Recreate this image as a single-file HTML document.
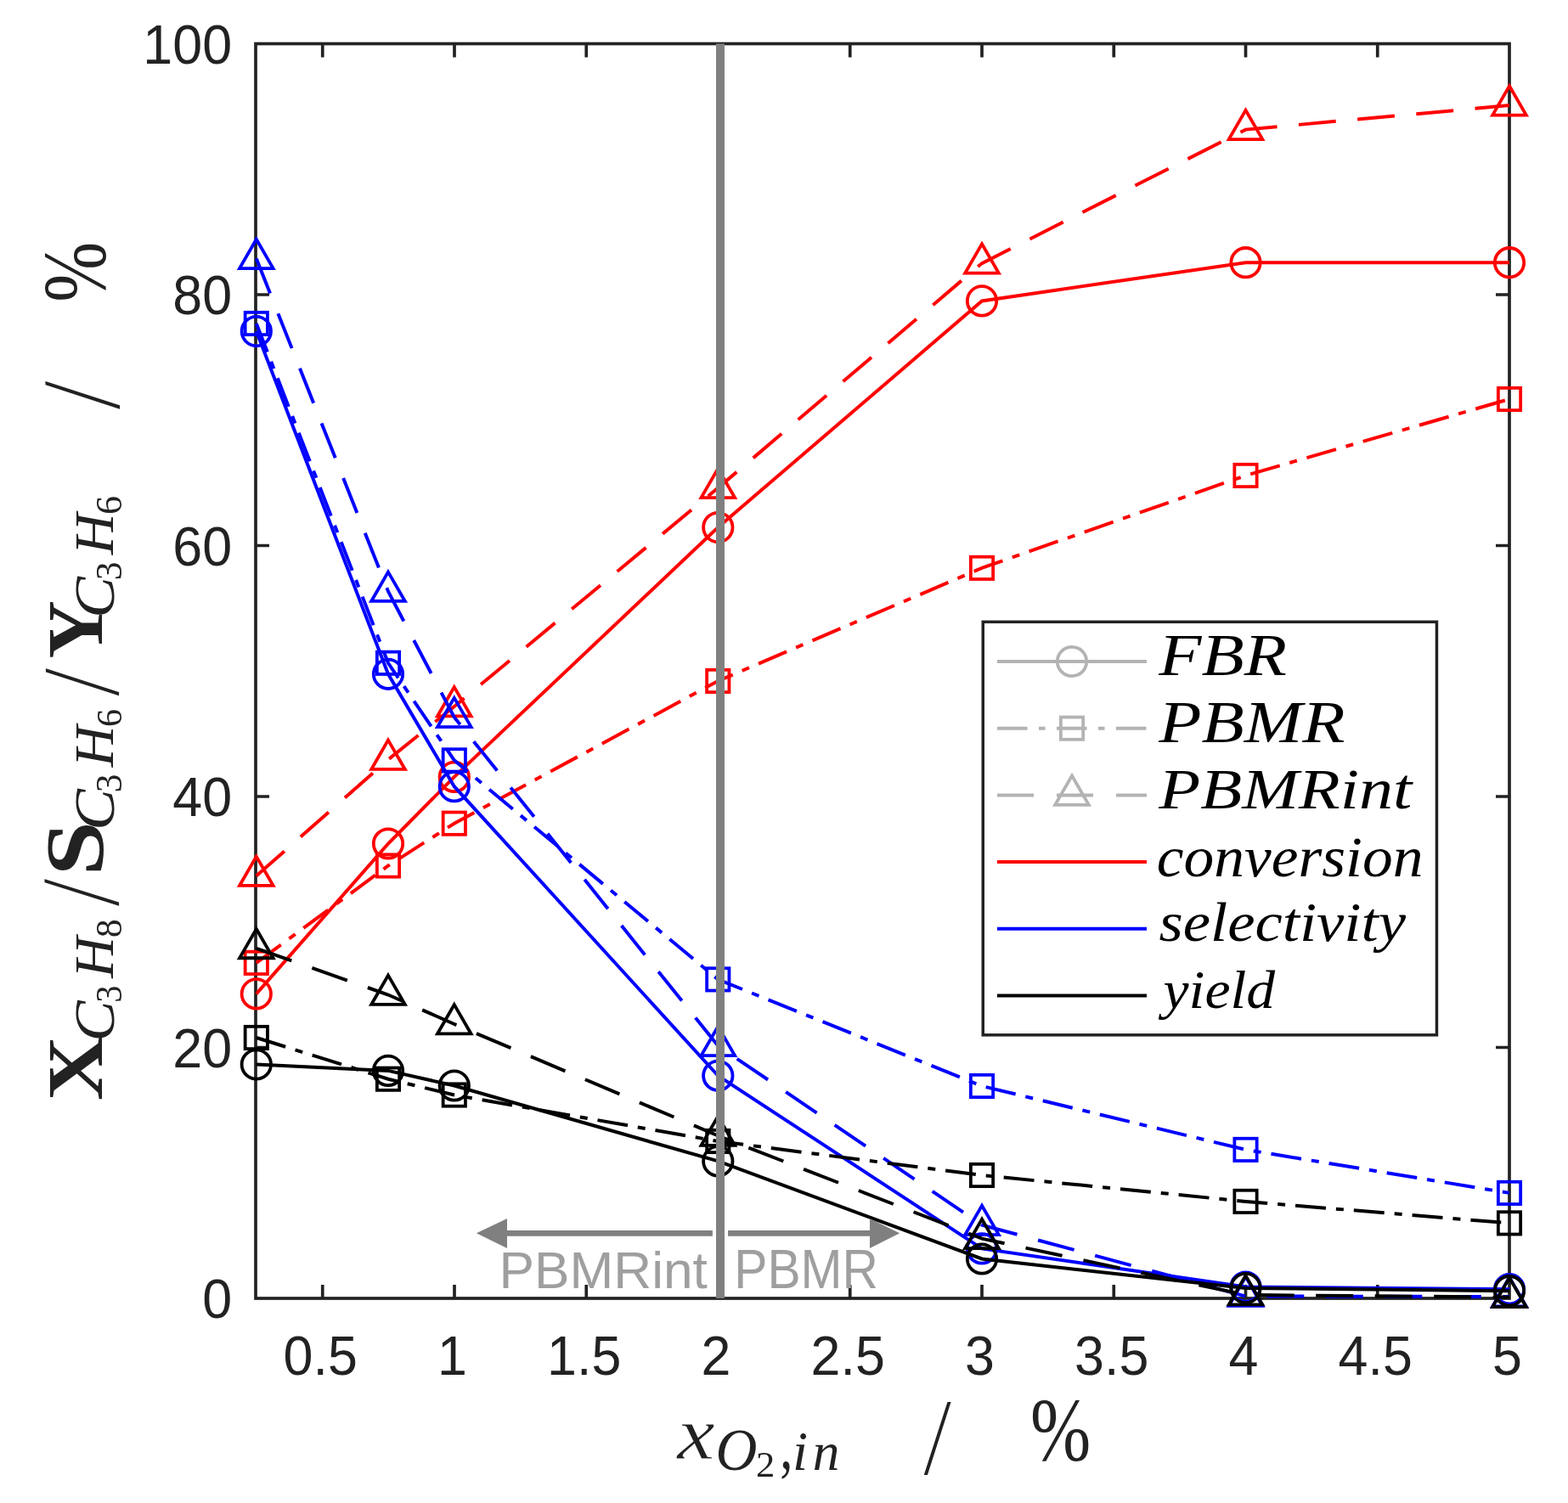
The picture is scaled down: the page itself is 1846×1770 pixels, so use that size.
<!DOCTYPE html>
<html><head><meta charset="utf-8"><title>Propane conversion, selectivity and yield</title>
<style>html,body{margin:0;padding:0;background:#fff;overflow:hidden}svg{display:block}text{font-kerning:none;white-space:pre}</style>
</head><body>
<svg width="1846" height="1770" viewBox="0 0 1846 1770">
<rect width="1846" height="1770" fill="#ffffff"/>
<g stroke="#222222" stroke-width="3.7" fill="none">
<rect x="301" y="51.5" width="1476" height="1477.5"/>
<path d="M379.75 1529V1513M379.75 51.5V67.5M535 1529V1513M535 51.5V67.5M690.25 1529V1513M690.25 51.5V67.5M845.5 1529V1513M845.5 51.5V67.5M1000.75 1529V1513M1000.75 51.5V67.5M1156 1529V1513M1156 51.5V67.5M1311.25 1529V1513M1311.25 51.5V67.5M1466.5 1529V1513M1466.5 51.5V67.5M1621.75 1529V1513M1621.75 51.5V67.5M301 1233.5H317M1777 1233.5H1761M301 938H317M1777 938H1761M301 642.5H317M1777 642.5H1761M301 347H317M1777 347H1761"/>
</g>
<g font-family="'Liberation Sans', Arial, sans-serif" font-size="64.6" fill="#222222">
<text transform="translate(377.25 1619.3) scale(0.972 1)" text-anchor="middle">0.5</text>
<text transform="translate(532.5 1619.3) scale(0.972 1)" text-anchor="middle">1</text>
<text transform="translate(687.75 1619.3) scale(0.972 1)" text-anchor="middle">1.5</text>
<text transform="translate(843 1619.3) scale(0.972 1)" text-anchor="middle">2</text>
<text transform="translate(998.25 1619.3) scale(0.972 1)" text-anchor="middle">2.5</text>
<text transform="translate(1153.5 1619.3) scale(0.972 1)" text-anchor="middle">3</text>
<text transform="translate(1308.75 1619.3) scale(0.972 1)" text-anchor="middle">3.5</text>
<text transform="translate(1464 1619.3) scale(0.972 1)" text-anchor="middle">4</text>
<text transform="translate(1619.25 1619.3) scale(0.972 1)" text-anchor="middle">4.5</text>
<text transform="translate(1774.5 1619.3) scale(0.972 1)" text-anchor="middle">5</text>
<text transform="translate(273.1 1552.3) scale(0.972 1)" text-anchor="end">0</text>
<text transform="translate(273.1 1256.8) scale(0.972 1)" text-anchor="end">20</text>
<text transform="translate(273.1 961.3) scale(0.972 1)" text-anchor="end">40</text>
<text transform="translate(273.1 665.8) scale(0.972 1)" text-anchor="end">60</text>
<text transform="translate(273.1 370.3) scale(0.972 1)" text-anchor="end">80</text>
<text transform="translate(273.1 74.8) scale(0.972 1)" text-anchor="end">100</text>
</g>
<polyline points="301.8,1170.4 457,993.5 534.8,914.9 845.3,621.1 1156,354.4 1466.5,309.2 1777,309.2" fill="none" stroke="#ff0000" stroke-width="4.0" stroke-linejoin="miter" stroke-linecap="butt"/>
<circle cx="301.8" cy="1170.4" r="17.2" fill="none" stroke="#ff0000" stroke-width="3.8"/>
<circle cx="457" cy="993.5" r="17.2" fill="none" stroke="#ff0000" stroke-width="3.8"/>
<circle cx="534.8" cy="914.9" r="17.2" fill="none" stroke="#ff0000" stroke-width="3.8"/>
<circle cx="845.3" cy="621.1" r="17.2" fill="none" stroke="#ff0000" stroke-width="3.8"/>
<circle cx="1156" cy="354.4" r="17.2" fill="none" stroke="#ff0000" stroke-width="3.8"/>
<circle cx="1466.5" cy="309.2" r="17.2" fill="none" stroke="#ff0000" stroke-width="3.8"/>
<circle cx="1777" cy="309.2" r="17.2" fill="none" stroke="#ff0000" stroke-width="3.8"/>
<polyline points="301.8,1133.9 457,1019.5 534.8,969.7 845.3,802 1156,668.9 1466.5,560 1777,470" fill="none" stroke="#ff0000" stroke-width="4.0" stroke-linejoin="miter" stroke-linecap="butt" stroke-dasharray="36 12 9 12"/>
<rect x="288.65" y="1120.75" width="26.3" height="26.3" fill="none" stroke="#ff0000" stroke-width="3.8"/>
<rect x="443.85" y="1006.35" width="26.3" height="26.3" fill="none" stroke="#ff0000" stroke-width="3.8"/>
<rect x="521.65" y="956.55" width="26.3" height="26.3" fill="none" stroke="#ff0000" stroke-width="3.8"/>
<rect x="832.15" y="788.85" width="26.3" height="26.3" fill="none" stroke="#ff0000" stroke-width="3.8"/>
<rect x="1142.85" y="655.75" width="26.3" height="26.3" fill="none" stroke="#ff0000" stroke-width="3.8"/>
<rect x="1453.35" y="546.85" width="26.3" height="26.3" fill="none" stroke="#ff0000" stroke-width="3.8"/>
<rect x="1763.85" y="456.85" width="26.3" height="26.3" fill="none" stroke="#ff0000" stroke-width="3.8"/>
<polyline points="301.8,1031.5 457,894.5 534.8,832 845.3,574.6 1156,310.1 1466.5,152.6 1777,124.1" fill="none" stroke="#ff0000" stroke-width="4.0" stroke-linejoin="miter" stroke-linecap="butt" stroke-dasharray="44 25.5"/>
<path d="M301.8 1008.64L321.6 1042.93L282 1042.93Z" fill="none" stroke="#ff0000" stroke-width="3.8" stroke-miterlimit="10"/>
<path d="M457 871.64L476.8 905.93L437.2 905.93Z" fill="none" stroke="#ff0000" stroke-width="3.8" stroke-miterlimit="10"/>
<path d="M534.8 809.14L554.6 843.43L515 843.43Z" fill="none" stroke="#ff0000" stroke-width="3.8" stroke-miterlimit="10"/>
<path d="M845.3 551.74L865.1 586.03L825.5 586.03Z" fill="none" stroke="#ff0000" stroke-width="3.8" stroke-miterlimit="10"/>
<path d="M1156 287.24L1175.8 321.53L1136.2 321.53Z" fill="none" stroke="#ff0000" stroke-width="3.8" stroke-miterlimit="10"/>
<path d="M1466.5 129.74L1486.3 164.03L1446.7 164.03Z" fill="none" stroke="#ff0000" stroke-width="3.8" stroke-miterlimit="10"/>
<path d="M1777 101.24L1796.8 135.53L1757.2 135.53Z" fill="none" stroke="#ff0000" stroke-width="3.8" stroke-miterlimit="10"/>
<polyline points="301.8,390.1 457,793.8 534.8,926.2 845.3,1266.8 1156,1470.4 1466.5,1515.5 1777,1518.2" fill="none" stroke="#0000ff" stroke-width="4.0" stroke-linejoin="miter" stroke-linecap="butt"/>
<circle cx="301.8" cy="390.1" r="17.2" fill="none" stroke="#0000ff" stroke-width="3.8"/>
<circle cx="457" cy="793.8" r="17.2" fill="none" stroke="#0000ff" stroke-width="3.8"/>
<circle cx="534.8" cy="926.2" r="17.2" fill="none" stroke="#0000ff" stroke-width="3.8"/>
<circle cx="845.3" cy="1266.8" r="17.2" fill="none" stroke="#0000ff" stroke-width="3.8"/>
<circle cx="1156" cy="1470.4" r="17.2" fill="none" stroke="#0000ff" stroke-width="3.8"/>
<circle cx="1466.5" cy="1515.5" r="17.2" fill="none" stroke="#0000ff" stroke-width="3.8"/>
<circle cx="1777" cy="1518.2" r="17.2" fill="none" stroke="#0000ff" stroke-width="3.8"/>
<polyline points="301.8,381 457,780.8 534.8,895.4 845.3,1153.4 1156,1279 1466.5,1353.9 1777,1404.9" fill="none" stroke="#0000ff" stroke-width="4.0" stroke-linejoin="miter" stroke-linecap="butt" stroke-dasharray="36 12 9 12"/>
<rect x="288.65" y="367.85" width="26.3" height="26.3" fill="none" stroke="#0000ff" stroke-width="3.8"/>
<rect x="443.85" y="767.65" width="26.3" height="26.3" fill="none" stroke="#0000ff" stroke-width="3.8"/>
<rect x="521.65" y="882.25" width="26.3" height="26.3" fill="none" stroke="#0000ff" stroke-width="3.8"/>
<rect x="832.15" y="1140.25" width="26.3" height="26.3" fill="none" stroke="#0000ff" stroke-width="3.8"/>
<rect x="1142.85" y="1265.85" width="26.3" height="26.3" fill="none" stroke="#0000ff" stroke-width="3.8"/>
<rect x="1453.35" y="1340.75" width="26.3" height="26.3" fill="none" stroke="#0000ff" stroke-width="3.8"/>
<rect x="1763.85" y="1391.75" width="26.3" height="26.3" fill="none" stroke="#0000ff" stroke-width="3.8"/>
<polyline points="301.8,304.6 457,696.5 534.8,844.7 845.3,1231.6 1156,1442.6 1466.5,1526.5 1777,1527" fill="none" stroke="#0000ff" stroke-width="4.0" stroke-linejoin="miter" stroke-linecap="butt" stroke-dasharray="44 25.5"/>
<path d="M301.8 281.74L321.6 316.03L282 316.03Z" fill="none" stroke="#0000ff" stroke-width="3.8" stroke-miterlimit="10"/>
<path d="M457 673.64L476.8 707.93L437.2 707.93Z" fill="none" stroke="#0000ff" stroke-width="3.8" stroke-miterlimit="10"/>
<path d="M534.8 821.84L554.6 856.13L515 856.13Z" fill="none" stroke="#0000ff" stroke-width="3.8" stroke-miterlimit="10"/>
<path d="M845.3 1208.74L865.1 1243.03L825.5 1243.03Z" fill="none" stroke="#0000ff" stroke-width="3.8" stroke-miterlimit="10"/>
<path d="M1156 1419.74L1175.8 1454.03L1136.2 1454.03Z" fill="none" stroke="#0000ff" stroke-width="3.8" stroke-miterlimit="10"/>
<path d="M1466.5 1503.64L1486.3 1537.93L1446.7 1537.93Z" fill="none" stroke="#0000ff" stroke-width="3.8" stroke-miterlimit="10"/>
<path d="M1777 1504.14L1796.8 1538.43L1757.2 1538.43Z" fill="none" stroke="#0000ff" stroke-width="3.8" stroke-miterlimit="10"/>
<polyline points="301.8,1253.5 457,1260.9 534.8,1278.5 845.3,1367.4 1156,1482.5 1466.5,1517 1777,1520.2" fill="none" stroke="#000000" stroke-width="4.0" stroke-linejoin="miter" stroke-linecap="butt"/>
<circle cx="301.8" cy="1253.5" r="17.2" fill="none" stroke="#000000" stroke-width="3.8"/>
<circle cx="457" cy="1260.9" r="17.2" fill="none" stroke="#000000" stroke-width="3.8"/>
<circle cx="534.8" cy="1278.5" r="17.2" fill="none" stroke="#000000" stroke-width="3.8"/>
<circle cx="845.3" cy="1367.4" r="17.2" fill="none" stroke="#000000" stroke-width="3.8"/>
<circle cx="1156" cy="1482.5" r="17.2" fill="none" stroke="#000000" stroke-width="3.8"/>
<circle cx="1466.5" cy="1517" r="17.2" fill="none" stroke="#000000" stroke-width="3.8"/>
<circle cx="1777" cy="1520.2" r="17.2" fill="none" stroke="#000000" stroke-width="3.8"/>
<polyline points="301.8,1222 457,1270.7 534.8,1289.5 845.3,1344 1156,1384 1466.5,1414.9 1777,1440.4" fill="none" stroke="#000000" stroke-width="4.0" stroke-linejoin="miter" stroke-linecap="butt" stroke-dasharray="36 12 9 12"/>
<rect x="288.65" y="1208.85" width="26.3" height="26.3" fill="none" stroke="#000000" stroke-width="3.8"/>
<rect x="443.85" y="1257.55" width="26.3" height="26.3" fill="none" stroke="#000000" stroke-width="3.8"/>
<rect x="521.65" y="1276.35" width="26.3" height="26.3" fill="none" stroke="#000000" stroke-width="3.8"/>
<rect x="832.15" y="1330.85" width="26.3" height="26.3" fill="none" stroke="#000000" stroke-width="3.8"/>
<rect x="1142.85" y="1370.85" width="26.3" height="26.3" fill="none" stroke="#000000" stroke-width="3.8"/>
<rect x="1453.35" y="1401.75" width="26.3" height="26.3" fill="none" stroke="#000000" stroke-width="3.8"/>
<rect x="1763.85" y="1427.25" width="26.3" height="26.3" fill="none" stroke="#000000" stroke-width="3.8"/>
<polyline points="301.8,1116.8 457,1171.5 534.8,1206 845.3,1337.5 1156,1458.6 1466.5,1525 1777,1527.6" fill="none" stroke="#000000" stroke-width="4.0" stroke-linejoin="miter" stroke-linecap="butt" stroke-dasharray="44 25.5"/>
<path d="M301.8 1093.94L321.6 1128.23L282 1128.23Z" fill="none" stroke="#000000" stroke-width="3.8" stroke-miterlimit="10"/>
<path d="M457 1148.64L476.8 1182.93L437.2 1182.93Z" fill="none" stroke="#000000" stroke-width="3.8" stroke-miterlimit="10"/>
<path d="M534.8 1183.14L554.6 1217.43L515 1217.43Z" fill="none" stroke="#000000" stroke-width="3.8" stroke-miterlimit="10"/>
<path d="M845.3 1314.64L865.1 1348.93L825.5 1348.93Z" fill="none" stroke="#000000" stroke-width="3.8" stroke-miterlimit="10"/>
<path d="M1156 1435.74L1175.8 1470.03L1136.2 1470.03Z" fill="none" stroke="#000000" stroke-width="3.8" stroke-miterlimit="10"/>
<path d="M1466.5 1502.14L1486.3 1536.43L1446.7 1536.43Z" fill="none" stroke="#000000" stroke-width="3.8" stroke-miterlimit="10"/>
<path d="M1777 1504.74L1796.8 1539.03L1757.2 1539.03Z" fill="none" stroke="#000000" stroke-width="3.8" stroke-miterlimit="10"/>
<line x1="848" y1="51.5" x2="848" y2="1529" stroke="#808080" stroke-width="10"/>
<path d="M597 1448.9H838.9V1455.7H597Z M560.9 1452.3L597 1434.9V1470Z" fill="#808080"/>
<path d="M857 1448.9H1024V1455.7H857Z M1059.2 1452.3L1024 1434.9V1470Z" fill="#808080"/>
<text transform="translate(587.39 1516.53) scale(1.0337 1)" font-family="'Liberation Sans', Arial, sans-serif" font-size="60.21" fill="#9f9f9f">PBMRint</text>
<text transform="translate(864.17 1517) scale(0.9177 1)" font-family="'Liberation Sans', Arial, sans-serif" font-size="64.10" fill="#9f9f9f">PBMR</text>
<rect x="1157.25" y="732.35" width="534.2" height="486.5" fill="#ffffff" stroke="#222222" stroke-width="3.5"/>
<line x1="1174" y1="779" x2="1350" y2="779" stroke="#b3b3b3" stroke-width="4.0"/>
<circle cx="1262" cy="779" r="17.2" fill="none" stroke="#b3b3b3" stroke-width="3.8"/>
<line x1="1174" y1="857.7" x2="1350" y2="857.7" stroke="#b3b3b3" stroke-width="4.0" stroke-dasharray="35.5 13.5 7.5 13.5"/>
<rect x="1248.85" y="844.55" width="26.3" height="26.3" fill="none" stroke="#b3b3b3" stroke-width="3.8"/>
<line x1="1174" y1="936.4" x2="1350" y2="936.4" stroke="#b3b3b3" stroke-width="4.0" stroke-dasharray="43 27"/>
<path d="M1262 913.54L1281.8 947.83L1242.2 947.83Z" fill="none" stroke="#b3b3b3" stroke-width="3.8" stroke-miterlimit="10"/>
<line x1="1174" y1="1015.1" x2="1350" y2="1015.1" stroke="#ff0000" stroke-width="4.0"/>
<line x1="1174" y1="1093.8" x2="1350" y2="1093.8" stroke="#0000ff" stroke-width="4.0"/>
<line x1="1174" y1="1172.5" x2="1350" y2="1172.5" stroke="#000000" stroke-width="4.0"/>
<text transform="translate(1364.34 795.49) scale(1.1651 1)" font-family="'Liberation Serif', 'Times New Roman', serif" font-size="70.55" font-style="italic" fill="#000000">FBR</text>
<text transform="translate(1364.34 874.19) scale(1.1658 1)" font-family="'Liberation Serif', 'Times New Roman', serif" font-size="70.55" font-style="italic" fill="#000000">PBMR</text>
<text transform="translate(1364.33 951.54) scale(1.1854 1)" font-family="'Liberation Serif', 'Times New Roman', serif" font-size="67.57" font-style="italic" fill="#000000">PBMRint</text>
<text transform="translate(1361.7 1031.95) scale(1.0728 1)" font-family="'Liberation Serif', 'Times New Roman', serif" font-size="66.68" font-style="italic" fill="#000000">conversion</text>
<text transform="translate(1364.51 1108.17) scale(1.1260 1)" font-family="'Liberation Serif', 'Times New Roman', serif" font-size="64.53" font-style="italic" fill="#000000">selectivity</text>
<text transform="translate(1369.55 1186.9) scale(1.0511 1)" font-family="'Liberation Serif', 'Times New Roman', serif" font-size="64.42" font-style="italic" fill="#000000">yield</text>
<text transform="translate(797.32 1718.1) scale(1.1124 1)" font-family="'Liberation Serif', 'Times New Roman', serif" font-size="89.55" font-style="italic" fill="#222222" stroke="#ffffff" stroke-width="0.80">x</text>
<text transform="translate(842.4 1730.52) scale(0.9782 1)" font-family="'Liberation Serif', 'Times New Roman', serif" font-size="69.21" font-style="italic" fill="#222222">O</text>
<text transform="translate(890.04 1738.9) scale(1.0337 1)" font-family="'Liberation Serif', 'Times New Roman', serif" font-size="43.20" fill="#222222">2</text>
<text transform="translate(918.3 1729.38) scale(0.7426 1)" font-family="'Liberation Serif', 'Times New Roman', serif" font-size="81.37" fill="#222222">,</text>
<text transform="translate(932.88 1730.6)" font-family="'Liberation Serif', 'Times New Roman', serif" font-size="64.79" font-style="italic" fill="#222222">i</text>
<text transform="translate(956.87 1730.6)" font-family="'Liberation Serif', 'Times New Roman', serif" font-size="63.24" font-style="italic" fill="#222222">n</text>
<text transform="translate(1086.5 1736.61) scale(0.9363 1)" font-family="'Liberation Serif', 'Times New Roman', serif" font-size="131.85" fill="#222222" stroke="#ffffff" stroke-width="1.80">/</text>
<text transform="translate(1213.08 1720.1) scale(0.8079 1)" font-family="'Liberation Serif', 'Times New Roman', serif" font-size="105.86" fill="#222222">%</text>
<g transform="rotate(-90)">
<text transform="translate(-1296.27 119.7) scale(1.1409 1)" font-family="'Liberation Serif', 'Times New Roman', serif" font-size="92.85" font-weight="bold" fill="#222222">X</text>
<text transform="translate(-1226.51 133.67) scale(1.0535 1)" font-family="'Liberation Serif', 'Times New Roman', serif" font-size="68.37" font-style="italic" fill="#222222">C</text>
<text transform="translate(-1180.63 142.87) scale(0.9208 1)" font-family="'Liberation Serif', 'Times New Roman', serif" font-size="43.91" fill="#222222">3</text>
<text transform="translate(-1151.67 132.6) scale(1.0183 1)" font-family="'Liberation Serif', 'Times New Roman', serif" font-size="66.28" font-style="italic" fill="#222222">H</text>
<text transform="translate(-1104.16 142.87)" font-family="'Liberation Serif', 'Times New Roman', serif" font-size="43.72" fill="#222222">8</text>
<text transform="translate(-1068 140.31) scale(0.9240 1)" font-family="'Liberation Serif', 'Times New Roman', serif" font-size="132.45" fill="#222222" stroke="#ffffff" stroke-width="1.80">/</text>
<text transform="translate(-1031.56 121.05) scale(1.1856 1)" font-family="'Liberation Serif', 'Times New Roman', serif" font-size="97.64" font-weight="bold" fill="#222222">S</text>
<text transform="translate(-977.85 133.67) scale(1.0630 1)" font-family="'Liberation Serif', 'Times New Roman', serif" font-size="68.37" font-style="italic" fill="#222222">C</text>
<text transform="translate(-933.19 142.87) scale(0.9924 1)" font-family="'Liberation Serif', 'Times New Roman', serif" font-size="43.91" fill="#222222">3</text>
<text transform="translate(-903.37 132.6) scale(1.0183 1)" font-family="'Liberation Serif', 'Times New Roman', serif" font-size="66.28" font-style="italic" fill="#222222">H</text>
<text transform="translate(-855.91 142.88) scale(0.9863 1)" font-family="'Liberation Serif', 'Times New Roman', serif" font-size="42.72" fill="#222222">6</text>
<text transform="translate(-820.5 140.31) scale(0.9386 1)" font-family="'Liberation Serif', 'Times New Roman', serif" font-size="132.30" fill="#222222" stroke="#ffffff" stroke-width="1.80">/</text>
<text transform="translate(-775.46 120.3) scale(1.0080 1)" font-family="'Liberation Serif', 'Times New Roman', serif" font-size="93.77" font-weight="bold" fill="#222222">Y</text>
<text transform="translate(-727.85 133.67) scale(1.0630 1)" font-family="'Liberation Serif', 'Times New Roman', serif" font-size="68.37" font-style="italic" fill="#222222">C</text>
<text transform="translate(-683.19 142.87) scale(0.9924 1)" font-family="'Liberation Serif', 'Times New Roman', serif" font-size="43.91" fill="#222222">3</text>
<text transform="translate(-653.37 132.6) scale(1.0183 1)" font-family="'Liberation Serif', 'Times New Roman', serif" font-size="66.28" font-style="italic" fill="#222222">H</text>
<text transform="translate(-606 142.87) scale(1.0075 1)" font-family="'Liberation Serif', 'Times New Roman', serif" font-size="43.91" fill="#222222">6</text>
<text transform="translate(-483 140.6) scale(0.9550 1)" font-family="'Liberation Serif', 'Times New Roman', serif" font-size="133.05" fill="#222222" stroke="#ffffff" stroke-width="1.80">/</text>
<text transform="translate(-355.81 123.7) scale(0.7998 1)" font-family="'Liberation Serif', 'Times New Roman', serif" font-size="106.45" fill="#222222">%</text>
</g>
</svg></body></html>
